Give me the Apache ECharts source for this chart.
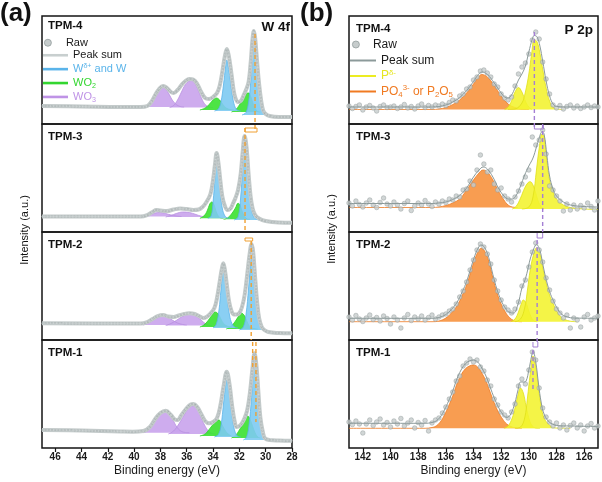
<!DOCTYPE html>
<html><head><meta charset="utf-8">
<script src="https://cdn.jsdelivr.net/npm/echarts@6/dist/echarts.min.js"></script>
<style>html,body{margin:0;padding:0;background:#fff}#c{width:602px;height:482px}</style>
</head><body><div id="c"></div>
<script>
// ---------------- Panel (a) W 4f : [binding energy, intensity] ----------------
const rawA4 = [[47,18],[44,17.5],[41,17],[39.5,17],[39,18],[38.7,22],[38.4,29],[38.1,35],[37.8,38],[37.5,36],[37.2,32],[37,31],[36.7,34],[36.4,39],[36.1,43],[35.8,45],[35.5,44.5],[35.2,40],[34.9,32],[34.6,26],[34.3,25],[34,27],[33.7,31],[33.5,38],[33.3,52],[33.1,68],[32.95,75],[32.8,68],[32.6,50],[32.45,35],[32.3,26],[32.1,22],[31.9,23],[31.7,28],[31.5,34],[31.3,42],[31.15,60],[31,85],[30.9,93],[30.8,86],[30.65,62],[30.5,40],[30.35,24],[30.2,14],[30,10],[29.7,8],[29,7],[28,7]];
const wo3A4a = [[39.2,17],[38.8,19],[38.5,24],[38.2,31],[37.95,35.5],[37.8,36.5],[37.6,35],[37.35,30],[37.1,24],[36.8,19.5],[36.5,17.5],[36.2,17]];
const wo3A4b = [[37.3,16.5],[37,18.5],[36.7,24],[36.4,32],[36.1,39.5],[35.8,43],[35.6,43.5],[35.35,40],[35.1,33],[34.85,25],[34.6,19.5],[34.3,17],[34,16.5]];
const wo2A4a = [[35,14],[34.6,16],[34.3,19.5],[34,24],[33.75,26],[33.5,24],[33.25,19.5],[33,16],[32.7,14.5],[32.4,14]];
const wo2A4b = [[32.6,12],[32.3,14],[32,19],[31.7,25],[31.45,30.5],[31.3,31],[31.15,28],[31,22],[30.8,15.5],[30.6,12.5],[30.4,12]];
const wA4a = [[33.9,13],[33.6,15],[33.4,22],[33.2,40],[33.05,57],[32.95,64],[32.85,58],[32.7,45],[32.5,26],[32.3,16],[32.1,13.5],[31.9,13]];
const wA4b = [[31.8,9],[31.5,11.5],[31.3,22],[31.15,40],[31,70],[30.9,90],[30.8,84],[30.65,60],[30.5,36],[30.35,20],[30.2,13],[30,9.5],[29.8,9]];

const rawA3 = [[47,15.5],[41,15.5],[39.5,15.5],[39,17],[38.6,20],[38.3,22],[38,21.5],[37.5,21],[37,22.5],[36.5,23.5],[36,23],[35.5,22],[35.1,22.5],[34.8,25],[34.5,30],[34.2,38],[34,52],[33.85,68],[33.73,79],[33.6,70],[33.45,52],[33.3,36],[33.1,26],[32.9,22],[32.7,23],[32.5,28],[32.3,34],[32.1,42],[31.9,58],[31.75,80],[31.6,96],[31.45,84],[31.3,58],[31.15,36],[31,24],[30.8,17],[30.5,13.5],[30,11],[29,9.5],[28,9.3]];
const wo3A3a = [[39.3,15.5],[38.8,17],[38.4,19],[38,19.5],[37.6,18.5],[37.2,17],[36.8,16],[36.4,15.5]];
const wo3A3b = [[37.6,15],[37.2,16.5],[36.8,18.5],[36.3,20],[35.8,19.5],[35.3,17.5],[34.9,15.8],[34.5,15]];
const wo2A3a = [[35,13.7],[34.7,16],[34.45,21],[34.25,28],[34.1,30],[33.95,28],[33.8,22],[33.6,16],[33.4,14],[33.2,13.7]];
const wo2A3b = [[33.2,12.7],[32.9,14],[32.6,18],[32.3,24],[32.1,28.7],[31.95,27],[31.8,21],[31.6,15.5],[31.4,13],[31.2,12.7]];
const wA3a = [[34.4,13.7],[34.15,16],[34,30],[33.85,55],[33.73,75],[33.6,62],[33.45,40],[33.3,24],[33.1,16],[32.9,14],[32.7,13.7]];
const wA3b = [[32.4,12],[32.1,15],[31.9,35],[31.75,65],[31.6,93],[31.45,80],[31.3,52],[31.15,30],[31,18],[30.8,13.5],[30.5,12]];

const rawA2 = [[47,16.7],[41,16.5],[39.5,16.5],[39,18],[38.6,21],[38.2,24],[37.8,25],[37.4,23.5],[37,23],[36.6,24.5],[36.2,26],[35.8,26.7],[35.4,26],[35,23.5],[34.75,22],[34.5,23],[34.2,26.5],[33.9,32],[33.7,42],[33.5,58],[33.35,70],[33.22,76.7],[33.1,70],[32.95,55],[32.8,40],[32.6,29],[32.4,25.5],[32.2,25.5],[32,27],[31.8,33],[31.6,45],[31.4,66],[31.2,88],[31.07,96],[30.95,88],[30.8,62],[30.65,38],[30.5,22],[30.3,13],[30.1,10],[29.8,8],[29,7],[28,6.7]];
const wo3A2a = [[39.3,15],[38.9,17],[38.5,20],[38.1,23],[37.8,24],[37.5,23],[37.1,20],[36.7,17],[36.3,15.5],[36,15]];
const wo3A2b = [[37.6,14.5],[37.2,16.5],[36.8,19.5],[36.4,23],[36,25.5],[35.75,26],[35.4,24.5],[35,21],[34.7,17.5],[34.4,15],[34.1,14.5]];
const wo2A2a = [[35,13],[34.7,15],[34.4,19],[34.1,24.5],[33.85,28],[33.6,26],[33.4,21],[33.2,16.5],[32.9,13.8],[32.6,13]];
const wo2A2b = [[33,11],[32.7,13],[32.4,17],[32.1,23],[31.85,27],[31.6,24],[31.4,18],[31.2,13.5],[30.9,11.5],[30.6,11]];
const wA2a = [[34,12],[33.75,16],[33.55,30],[33.4,50],[33.22,70],[33.05,58],[32.9,40],[32.75,25],[32.55,16],[32.3,12.5],[32.1,12]];
const wA2b = [[32,10],[31.7,13],[31.5,25],[31.3,52],[31.15,78],[31.07,90],[30.95,82],[30.8,58],[30.65,34],[30.5,19],[30.3,12],[30.1,10]];

const rawA1 = [[47,18],[44,17.5],[41,16.5],[40.1,16.3],[39.3,17],[38.8,21],[38.4,29],[38,35],[37.6,37.3],[37.2,33],[36.9,28.5],[36.7,28],[36.4,33],[36,40],[35.7,43.5],[35.5,44],[35.2,41],[34.9,34],[34.6,27],[34.3,24.7],[34,26],[33.7,30],[33.45,42],[33.2,62],[32.96,76.3],[32.75,64],[32.55,42],[32.35,26],[32.2,21],[32,22],[31.8,25],[31.6,30],[31.4,38],[31.2,55],[31,80],[30.85,94.7],[30.7,82],[30.55,55],[30.4,30],[30.2,15],[30.05,9.7],[29.7,8],[29,7.5],[28,7.3]];
const wo3A1a = [[39.3,15.3],[38.9,18],[38.5,25],[38.15,32],[37.8,35.5],[37.6,36],[37.35,34],[37.05,28],[36.75,21],[36.45,17],[36.1,15.5],[35.8,15.3]];
const wo3A1b = [[37.4,14],[37,17],[36.6,24],[36.2,33],[35.85,40],[35.55,42],[35.25,39.5],[34.95,32],[34.65,23],[34.35,17],[34.05,14.5],[33.8,14]];
const wo2A1a = [[35,12],[34.6,14],[34.3,18.5],[34,23.5],[33.7,27.5],[33.55,28],[33.35,24],[33.1,18],[32.85,14],[32.6,12]];
const wo2A1b = [[32.6,10],[32.3,12.5],[32,18],[31.7,25],[31.5,30],[31.37,32],[31.2,29],[31,22],[30.8,15],[30.6,11],[30.4,10]];
const wA1a = [[33.9,11],[33.6,13.5],[33.4,22],[33.2,45],[33.05,62],[32.96,68],[32.85,63],[32.7,47],[32.5,27],[32.3,15],[32.1,11.5],[31.9,11]];
const wA1b = [[31.7,8],[31.45,11],[31.25,25],[31.05,55],[30.92,80],[30.81,90],[30.7,80],[30.55,52],[30.4,28],[30.25,15],[30.1,10],[29.9,8.5],[29.7,8]];

// peak-position guide marks (a)
const mkA4 = [[30.81,90],[30.81,-6]];
const mkA3box = [[31.57,100],[30.66,100],[30.66,104],[31.57,104],[31.57,100]];
const mkA3 = [[31.57,104],[31.57,0]];
const mkA2box = [[31.57,99],[30.99,99],[30.99,102],[31.57,102],[31.57,99]];
const mkA2 = [[31.1,99],[31.1,0]];
const mkA1a = [[30.99,106],[30.99,81]];
const mkA1b = [[30.74,106],[30.74,26]];

// ---------------- Panel (b) P 2p ----------------
const E_P = [143,142.75,142.5,142.25,142,141.75,141.5,141.25,141,140.75,140.5,140.25,140,139.75,139.5,139.25,139,138.75,138.5,138.25,138,137.75,137.5,137.25,137,136.75,136.5,136.25,136,135.75,135.5,135.25,135,134.75,134.5,134.25,134,133.75,133.5,133.25,133,132.75,132.5,132.25,132,131.75,131.5,131.25,131,130.75,130.5,130.25,130,129.75,129.5,129.25,129,128.75,128.5,128.25,128,127.75,127.5,127.25,127,126.75,126.5,126.25,126,125.75,125.5,125.25,125];
const rawB4 = [18,15.5,17.5,19,14,17,18.5,16,13,17.5,19,16.5,17,18,15.5,17,19.5,16,17.5,15,18,20,16.5,18.5,17,19,18,20,18.5,21.5,24,23,28,30,35,37,44,47,53,54,51,47,40,37,30,26,24,27,38,50,57,61,70,84,92,85,62,45,30,19,16,18.5,15,17.5,19,16,18,15.5,17,19,16.5,18,17];
const rawB3 = [29,26,31,27.5,25,29,32,27,24.5,29.5,34,28,26,30,27,23,28.5,31,21.5,26,29,27,31.5,28,25.5,30,28,31,29.5,33,32,36,35,42,43,51,47,62,77,68,60,62,48,42,44,36,33,30,35,41,48,55,62,95,87,92,102,78,46,42,36,31,21,28,22,27,23,26.5,24,29,25.5,22,31];
const rawB2 = [23,20,24.5,21,18.5,22,25,20.5,22.5,19,24,21.5,16,23,20,12,22,25.5,19.5,23,21,24,20,22.5,25,21,23,25,26,29,31,36,43,49,58,70,80,90,96,93,86,76,60,49,40,33,30,27,31,38,54,60,73,88,97,90,78,62,50,39,31,27,22,25,12,22,20,13,23,25.5,20,22,24];
const rawB1 = [26,23.5,27,24,15,24,28,22.5,26,29,23,25.5,21,27,24,29.5,22,25,28,20,25.5,23,27.5,17,25,28,30,35,41,49,56,67,72,82,85,89,86,88,81,77,68,62,49,43,36,33,30,36,44,62,69,64,78,96,88,60,40,31,26,22,25,20,23,18,22.5,25,20,23,17,22,24.5,20,22];

const sumB4 = [[143,17],[137,17],[136.5,17.5],[136,19],[135.5,22],[135,26.5],[134.5,33.5],[134,42.5],[133.7,48.5],[133.4,52],[133,49.5],[132.5,41],[132,31],[131.75,27],[131.5,26],[131.25,29],[131,36],[130.75,44],[130.5,50],[130.25,58],[130,72],[129.75,85],[129.6,88.5],[129.4,87],[129.2,78],[129,63],[128.75,43],[128.5,28],[128.25,20],[128,17.5],[127,17],[125,17]];
const oB4 = [[143,14.5],[137,14.5],[136.5,15],[136,16.5],[135.5,19.5],[135,24],[134.5,31],[134,40],[133.7,46],[133.4,49.5],[133,47],[132.5,38.5],[132,28],[131.5,20],[131,16.5],[130.5,15],[130,14.5]];
const ysB4 = [[131.75,14.5],[131.5,17],[131.25,23],[131,32],[130.75,36.5],[130.5,32],[130.25,23],[130,17],[129.75,14.5]];
const ybB4 = [[131.5,14.5],[131,15],[130.5,21],[130.25,32],[130,50],[129.8,70],[129.6,84.5],[129.4,82],[129.2,71],[129,55],[128.75,36],[128.5,23],[128.25,17],[128,15],[127.5,14.5]];

const sumB3 = [[143,28.5],[137,28.5],[136.5,29],[136,30],[135.5,32.5],[135,36.5],[134.5,44],[134,55],[133.6,62],[133.3,65],[133,63],[132.6,55],[132.2,44],[131.8,36],[131.5,33],[131.2,33],[130.9,37],[130.6,46],[130.3,57],[130,66],[129.7,74],[129.45,85],[129.25,94],[129.05,100],[128.9,98],[128.7,77],[128.5,56],[128.25,43],[128,36],[127.5,30],[127,27],[126,25.5],[125,25]];
const oB3 = [[143,24.5],[137,24.5],[136.5,25],[136,26.5],[135.5,29],[135,33],[134.7,38],[134.3,46],[134,52],[133.6,59],[133.3,62],[133,60],[132.6,52],[132.2,41],[131.8,32],[131.5,27],[131.2,25],[130.8,24.5]];
const ysB3 = [[131.2,23],[130.9,26],[130.6,34],[130.3,44],[130.05,49.5],[129.9,50.3],[129.7,47],[129.5,39],[129.3,30],[129.1,25],[128.9,23]];
const ybB3 = [[130.5,23],[130,25],[129.7,35],[129.45,62],[129.25,84],[129.05,98],[128.9,96],[128.7,72],[128.5,52],[128.25,40],[128,33],[127.5,27],[127,24.5],[126.5,23.5],[125.5,22.7],[125,22.5]];

const sumB2 = [[143,21.7],[137,21.7],[136.5,22.5],[136,25.5],[135.6,30.5],[135.2,37.5],[134.8,48.5],[134.5,58.5],[134.2,71.5],[133.9,84.5],[133.6,93.5],[133.45,95],[133.2,92.5],[132.9,82.5],[132.6,65.5],[132.3,50.5],[132,39.5],[131.7,32],[131.4,27.5],[131.1,27],[130.8,35],[130.5,52],[130.3,59],[130.1,69],[129.9,81],[129.65,91],[129.45,95.5],[129.2,89.5],[129,76.5],[128.8,63.5],[128.5,48.5],[128.2,38.5],[127.9,30.5],[127.6,25.5],[127.2,23],[126.8,22],[125,21.7]];
const oB2 = [[143,18.3],[137,18.3],[136.5,19],[136,22],[135.6,27],[135.2,34],[134.8,45],[134.5,55],[134.2,68],[133.9,81],[133.6,90],[133.45,91.7],[133.2,89],[132.9,79],[132.6,62],[132.3,47],[132,36],[131.7,28],[131.4,22.5],[131.1,19.5],[130.8,18.5],[130.5,18.3]];
const ysB2 = [[131.3,18.3],[131,21],[130.75,28],[130.55,36],[130.4,40],[130.2,37],[130,29],[129.8,22],[129.6,19],[129.4,18.3]];
const ybB2 = [[131,18.3],[130.6,21],[130.3,32],[130.1,50],[129.9,70],[129.65,86],[129.45,92],[129.2,86],[129,73],[128.8,60],[128.5,45],[128.2,35],[127.9,27],[127.6,22],[127.2,19.5],[126.8,18.5],[126.5,18.3]];

const sumB1 = [[143,24.7],[137.5,24.7],[137,25.5],[136.7,27],[136.4,31],[136.1,38],[135.8,47],[135.5,57],[135.2,69],[134.9,78],[134.6,84],[134.3,87],[134,88],[133.7,86],[133.4,80],[133.1,72],[132.8,61],[132.5,50],[132.2,41],[131.9,34],[131.6,30.5],[131.3,34],[131,45.5],[130.8,57],[130.6,66],[130.4,66],[130.2,67],[130,78],[129.8,92],[129.7,97],[129.5,86],[129.3,64],[129.1,45],[128.9,34],[128.6,27],[128.3,24],[128,22.5],[127,22],[125,21.5]];
const oB1 = [[143,19.7],[137.5,19.7],[137,20.5],[136.7,22],[136.4,26],[136.1,33],[135.8,42],[135.5,52],[135.2,64],[134.9,73],[134.6,79],[134.3,82],[134,83],[133.7,81],[133.4,75],[133.1,67],[132.8,56],[132.5,45],[132.2,36],[131.9,29],[131.6,24],[131.3,21.5],[131,20.3],[130.5,19.7]];
const ysB1 = [[131.8,19.7],[131.5,22],[131.2,30],[131,40],[130.8,52],[130.6,60],[130.4,55],[130.2,42],[130,30],[129.8,23],[129.5,20],[129.2,19.7]];
const ybB1 = [[131,19.7],[130.6,21],[130.3,30],[130.1,50],[129.9,74],[129.7,92],[129.5,82],[129.3,60],[129.1,41],[128.9,30],[128.6,24],[128.3,21],[128,20],[127,19.7]];

// peak-position guide marks (b)
const mkB4 = [[129.6,92],[129.6,-4]];
const mkB3u = [[129.6,107],[129.6,103],[128.95,103],[128.95,107]];
const mkB3 = [[129.0,108],[129.0,0]];
const mkB2u = [[129.4,107],[129.4,102],[129.0,102],[129.0,107]];
const mkB2 = [[129.4,100],[129.4,-3]];
const mkB1u = [[129.7,106],[129.7,101],[129.35,101],[129.35,106]];
const mkB1 = [[129.7,98],[129.7,56]];

const rowLabels = ['TPM-4','TPM-3','TPM-2','TPM-1'];

// ---------------- build ----------------
const FONT = '"Liberation Sans", Arial, sans-serif';
const rowTops = [16,124,232,340], rowH = 108;
const grids=[], xAxes=[], yAxes=[], series=[];
const C = {
  pur:['rgba(201,163,236,0.9)','#b78fe0'], grn:['rgba(62,226,52,0.92)','#2ccf28'], blu:['rgba(125,202,242,0.9)','#5ab4ea'],
  org:['rgba(248,152,72,0.95)','#ee7a22'], yel:['rgba(242,242,46,0.88)','#e0e018']
};
function addGrid(left,width,top){ grids.push({left,width,top,height:rowH,show:true,borderColor:'#151515',borderWidth:1.5,backgroundColor:'transparent'}); return grids.length-1; }
function xAx(gi,min,max,bottom,hideMin){
  return {type:'value',gridIndex:gi,min,max,inverse:true,minInterval:2,maxInterval:2,
    axisLine:{show:false},splitLine:{show:false},
    axisTick:{show:bottom,length:4,lineStyle:{color:'#151515',width:1.2}},
    axisLabel:{show:bottom,showMinLabel:!hideMin,showMaxLabel:false,fontSize:10,fontWeight:'bold',color:'#1a1a1a',margin:4,fontFamily:FONT},
    name:bottom?'Binding energy (eV)':'',nameLocation:'middle',nameGap:17,
    nameTextStyle:{fontSize:12,color:'#1a1a1a',fontFamily:FONT}};
}
function comp(gi,name,data,col,z){
  series.push({type:'line',name,xAxisIndex:gi,yAxisIndex:gi,data,smooth:0.4,symbol:'none',
    lineStyle:{color:col[1],width:0.8},areaStyle:{color:col[0],opacity:1,origin:data[0][1]},z,silent:true});
}
function mark(gi,data,dashed,color){
  series.push({type:'line',xAxisIndex:gi,yAxisIndex:gi,data,symbol:'none',clip:false,smooth:false,
    lineStyle:{color,width:dashed?1.4:1,type:dashed?[4,3]:'solid'},z:9,silent:true});
}
const rowsA = [
  {raw:rawA4,wo3:[wo3A4a,wo3A4b],wo2:[wo2A4a,wo2A4b],w:[wA4a,wA4b],marks:[[mkA4,true]]},
  {raw:rawA3,wo3:[wo3A3a,wo3A3b],wo2:[wo2A3a,wo2A3b],w:[wA3a,wA3b],marks:[[mkA3box,false],[mkA3,true]]},
  {raw:rawA2,wo3:[wo3A2a,wo3A2b],wo2:[wo2A2a,wo2A2b],w:[wA2a,wA2b],marks:[[mkA2box,false],[mkA2,true]]},
  {raw:rawA1,wo3:[wo3A1a,wo3A1b],wo2:[wo2A1a,wo2A1b],w:[wA1a,wA1b],marks:[[mkA1a,true],[mkA1b,true]]}
];
const rowsB = [
  {raw:rawB4,sum:sumB4,o:oB4,ys:ysB4,yb:ybB4,marks:[[mkB4,true]]},
  {raw:rawB3,sum:sumB3,o:oB3,ys:ysB3,yb:ybB3,marks:[[mkB3u,false],[mkB3,true]]},
  {raw:rawB2,sum:sumB2,o:oB2,ys:ysB2,yb:ybB2,marks:[[mkB2u,false],[mkB2,true]]},
  {raw:rawB1,sum:sumB1,o:oB1,ys:ysB1,yb:ybB1,marks:[[mkB1u,false],[mkB1,true]]}
];
rowsA.forEach((r,k)=>{
  const gi = addGrid(42,250,rowTops[k]);
  xAxes.push(xAx(gi,28,47,k===3,false));
  yAxes.push({type:'value',gridIndex:gi,min:0,max:108,show:false});
  r.wo3.forEach(d=>comp(gi,'WO3',d,C.pur,2));
  r.wo2.forEach(d=>comp(gi,'WO2',d,C.grn,3));
  r.w.forEach(d=>comp(gi,'W',d,C.blu,4));
  series.push({type:'line',name:'Raw',xAxisIndex:gi,yAxisIndex:gi,data:r.raw,smooth:0.4,symbol:'none',lineStyle:{color:'#c3caca',width:4},z:5,silent:true});
  series.push({type:'line',name:'Raw',xAxisIndex:gi,yAxisIndex:gi,data:r.raw,smooth:0.4,symbol:'none',lineStyle:{color:'#9aa4a4',width:1.5,type:[1,2.2],cap:'round'},z:6,silent:true});
  series.push({type:'line',name:'Peak sum',xAxisIndex:gi,yAxisIndex:gi,data:r.raw,smooth:0.4,symbol:'none',lineStyle:{color:'#d5dbdb',width:0.7},z:7,silent:true});
  r.marks.forEach(m=>mark(gi,m[0],m[1],'#f0a032'));
});
rowsB.forEach((r,k)=>{
  const gi = addGrid(349,249,rowTops[k]);
  xAxes.push(xAx(gi,125,143,k===3,true));
  yAxes.push({type:'value',gridIndex:gi,min:0,max:108,show:false});
  comp(gi,'PO',r.o,C.org,2);
  comp(gi,'P',r.ys,C.yel,3);
  comp(gi,'P',r.yb,C.yel,4);
  series.push({type:'scatter',name:'Raw',xAxisIndex:gi,yAxisIndex:gi,data:E_P.map((e,i)=>[e,r.raw[i]]),symbol:'circle',symbolSize:4.6,
    itemStyle:{color:'#c6cccc',borderColor:'#939d9d',borderWidth:0.6},z:5,silent:true});
  series.push({type:'line',name:'Peak sum',xAxisIndex:gi,yAxisIndex:gi,data:r.sum,smooth:0.4,symbol:'none',lineStyle:{color:'#8c9a9a',width:1},z:6,silent:true});
  r.marks.forEach(m=>mark(gi,m[0],m[1],'#a47fd4'));
});

// legends
const LABELS = {'W':'W{sup|δ+} and W','WO2':'WO{sub|2}','WO3':'WO{sub|3}','P':'P{sup|δ-}','PO':'PO{sub|4}{sup|3-} or P{sub|2}O{sub|5}'};
function lgItem(name,icon,color,textColor,fs,lh,extra){
  return Object.assign({name,icon,itemStyle:Object.assign({color,borderWidth:0},extra||{}),
    textStyle:{color:textColor,fontSize:fs,lineHeight:lh,fontFamily:FONT,
      rich:{sup:{color:textColor,fontSize:fs*0.65,verticalAlign:'top',lineHeight:lh,fontFamily:FONT},
            sub:{color:textColor,fontSize:fs*0.65,verticalAlign:'bottom',lineHeight:lh,fontFamily:FONT}}}});
}
function legend(left,top,w,h,gap,items,fs,lh){
  return {left,top,orient:'vertical',itemWidth:w,itemHeight:h,itemGap:gap,selectedMode:false,padding:0,
    formatter:n=>LABELS[n]||n,textStyle:{fontSize:fs,lineHeight:lh,fontFamily:FONT,color:'#1a1a1a'},data:items};
}
const legends = [
  legend(44,36,26,7,0,[lgItem('Raw','circle','#c6cccc','#1a1a1a',11,13.5,{borderColor:'#939d9d',borderWidth:0.8})],11,13.5),
  legend(43,48.5,25,2.6,0.4,[
    lgItem('Peak sum','rect','#c8cfcf','#1a1a1a',11,13.5),
    lgItem('W','rect','#5ab4ea','#5ab4ea',11,13.5),
    lgItem('WO2','rect','#33d630','#33d630',11,13.5),
    lgItem('WO3','rect','#bf93e6','#bf93e6',11,13.5)],11,13.5),
  legend(352,37,24,7,0,[lgItem('Raw','circle','#c6cccc','#1a1a1a',12,15,{borderColor:'#939d9d',borderWidth:0.8})],12,15),
  legend(350,53,26,2,0.5,[
    lgItem('Peak sum','rect','#8c9a9a','#1a1a1a',12,15),
    lgItem('P','rect','#ecec22','#e6e622',12,15),
    lgItem('PO','rect','#f07a22','#f07a22',12,15)],12,15)
];

// texts
const graphic = [];
function txt(x,y,text,size,weight,align,rot){
  graphic.push({type:'text',x,y,rotation:rot||0,silent:true,
    style:{text,fontSize:size,fontWeight:weight,fontFamily:FONT,fill:'#111',textAlign:align||'left',textVerticalAlign:'middle'}});
}
txt(0,14,'(a)',26,'bold');
txt(300,14,'(b)',26,'bold');
txt(290,27,'W 4f',13.5,'bold','right');
txt(593,30,'P 2p',13.5,'bold','right');
rowLabels.forEach((t,k)=>{
  txt(48,k===0?26:rowTops[k]+12.5,t,11.5,'bold');
  txt(356,rowTops[k]+13,t,11.5,'bold');
});
txt(25,230,'Intensity (a.u.)',11,'normal','center',Math.PI/2);
txt(332,229,'Intensity (a.u.)',11,'normal','center',Math.PI/2);

const chart = echarts.init(document.getElementById('c'));
chart.setOption({animation:false,backgroundColor:'#fff',grid:grids,xAxis:xAxes,yAxis:yAxes,legend:legends,graphic,series});
</script></body></html>
